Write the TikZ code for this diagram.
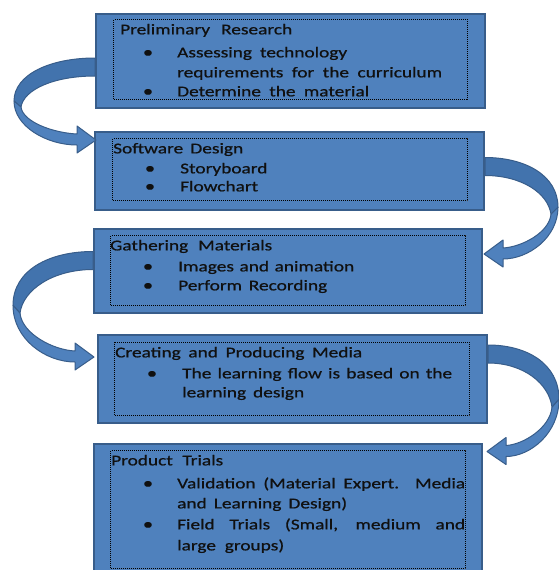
\documentclass[tikz,border=0pt]{standalone}
\usepackage{fontspec}
\setmainfont[FakeStretch=1.29, FakeBold=0.7]{Carlito}
\usetikzlibrary{calc}

\definecolor{boxfill}{HTML}{4F81BD}
\definecolor{boxline}{HTML}{385D8A}
\definecolor{ribbonback}{HTML}{4273AD}
\definecolor{inktext}{HTML}{101010}

% Curved ribbon arrow looping out to the left.
% #1 start point (band centre on the box edge), #2 drop to the tip, #3 reach
\newcommand\ribbonleft[3]{%
  \begin{scope}[shift={#1}]
    \filldraw[ribbon, fill=ribbonback]
      (0,-9) .. controls ({-0.55*#3},-9) and (-#3,{0.1*#2}) .. (-#3,{0.46*#2})
      -- ({-#3+7},{0.54*#2})
      .. controls ({-#3+10},{0.3*#2}) and ({-0.5*#3},9) .. (0,9) -- cycle;
    \filldraw[ribbon, fill=boxfill]
      (-#3,{0.46*#2}) .. controls (-#3,{0.8*#2}) and ({-0.6*#3},{#2+4}) .. (-18,{#2+4})
      -- (-18,{#2+12}) -- (1,{#2-1}) -- (-18,{#2-15}) -- (-18,{#2-7})
      .. controls ({-0.5*#3},{#2-8}) and ({-#3+9},{0.75*#2}) .. ({-#3+7},{0.54*#2})
      -- cycle;
  \end{scope}}
% The same ribbon, looping out to the right.
\newcommand\ribbonright[3]{%
  \begin{scope}[shift={#1}, xscale=-1]
    \filldraw[ribbon, fill=ribbonback]
      (0,-9) .. controls ({-0.55*#3},-9) and (-#3,{0.1*#2}) .. (-#3,{0.46*#2})
      -- ({-#3+7},{0.54*#2})
      .. controls ({-#3+10},{0.3*#2}) and ({-0.5*#3},9) .. (0,9) -- cycle;
    \filldraw[ribbon, fill=boxfill]
      (-#3,{0.46*#2}) .. controls (-#3,{0.8*#2}) and ({-0.6*#3},{#2+4}) .. (-18,{#2+4})
      -- (-18,{#2+12}) -- (1,{#2-1}) -- (-18,{#2-15}) -- (-18,{#2-7})
      .. controls ({-0.5*#3},{#2-8}) and ({-#3+9},{0.75*#2}) .. ({-#3+7},{0.54*#2})
      -- cycle;
  \end{scope}}

\begin{document}
\begin{tikzpicture}[x=1pt, y=-1pt,
  stage/.style={rectangle, draw=boxline, line width=2pt, fill=boxfill,
    inner sep=0pt, anchor=north west},
  frame/.style={rectangle, inner sep=0pt, anchor=north west,
    preaction={draw=white, line width=1.2pt},
    draw=black, line width=1.2pt, dash pattern=on 1pt off 1pt},
  ribbon/.style={draw=boxline, line width=1pt, line join=round},
  txt/.style={anchor=mid west, inner sep=0pt, text=inktext, yshift=-3pt,
    font=\fontsize{15}{18}\selectfont},
  dot/.style={anchor=mid, inner sep=0pt, text=inktext, yshift=-3pt,
    font=\fontsize{16}{18}\selectfont}]

\useasboundingbox (0,0) rectangle (558,570);

% stage boxes
\node[stage, minimum width=389pt, minimum height=94pt]  (b1) at (95,13)  {};
\node[stage, minimum width=389pt, minimum height=78pt]  (b2) at (94,131) {};
\node[stage, minimum width=388pt, minimum height=84pt]  (b3) at (93,228) {};
\node[stage, minimum width=389pt, minimum height=88pt]  (b4) at (97,334) {};
\node[stage, minimum width=388pt, minimum height=140pt] (b5) at (93,443) {};

% dotted text frames
\node[frame, minimum width=354pt, minimum height=80pt]  (d1) at (113,19)  {};
\node[frame, minimum width=355pt, minimum height=62pt]  (d2) at (112,138) {};
\node[frame, minimum width=355pt, minimum height=70pt]  (d3) at (110,235) {};
\node[frame, minimum width=355pt, minimum height=73pt]  (d4) at (114,342) {};
\node[frame, minimum width=355pt, minimum height=118pt] (d5) at (110,450) {};

% connecting ribbons
\ribbonleft{($(b1.west)+(0,6)$)}{74}{81}
\ribbonright{($(b2.east)+(0,-4.5)$)}{88.5}{73}
\ribbonleft{($(b3.west)+(0,-10.5)$)}{97.5}{80}
\ribbonright{($(b4.east)+(0,-25)$)}{98.5}{71}

% stage 1
\node[txt] (t11) at (120,29) {\makebox[172pt][s]{Preliminary Research}};
\node[dot] (p11) at (148,52) {•};
\node[txt] (t12) at (177,52) {\makebox[170pt][s]{Assessing technology}};
\node[txt] (t13) at (177,72) {\makebox[265pt][s]{requirements for the curriculum}};
\node[dot] (p12) at (148,91) {•};
\node[txt] (t14) at (177,91) {\makebox[192pt][s]{Determine the material}};

% stage 2
\node[txt] (t21) at (113,148) {\makebox[130pt][s]{Software Design}};
\node[dot] (p21) at (150,168) {•};
\node[txt] (t22) at (180,168) {Storyboard};
\node[dot] (p22) at (150,186) {•};
\node[txt] (t23) at (180,186) {Flowchart};

% stage 3
\node[txt] (t31) at (110,245) {\makebox[162pt][s]{Gathering Materials}};
\node[dot] (p31) at (148,266) {•};
\node[txt] (t32) at (178,266) {\makebox[176pt][s]{Images and animation}};
\node[dot] (p32) at (148,285) {•};
\node[txt] (t33) at (178,285) {\makebox[149pt][s]{Perform Recording}};

% stage 4
\node[txt] (t41) at (115,352) {\makebox[247pt][s]{Creating and Producing Media}};
\node[dot] (p41) at (152,373) {•};
\node[txt] (t42) at (182,373) {\makebox[270pt][s]{The learning flow is based on the}};
\node[txt] (t43) at (182,392) {\makebox[122pt][s]{learning design}};

% stage 5
\node[txt] (t51) at (111,460) {\makebox[112pt][s]{Product Trials}};
\node[dot] (p51) at (148,483) {•};
\node[txt] (t52) at (177,483) {\makebox[288pt][s]{Validation (Material Expert. Media}};
\node[txt] (t53) at (177,503) {\makebox[170pt][s]{and Learning Design)}};
\node[dot] (p52) at (148,524) {•};
\node[txt] (t54) at (177,524) {\makebox[288pt][s]{Field Trials (Small, medium and}};
\node[txt] (t55) at (177,545) {\makebox[107pt][s]{large groups)}};
\end{tikzpicture}
\end{document}
